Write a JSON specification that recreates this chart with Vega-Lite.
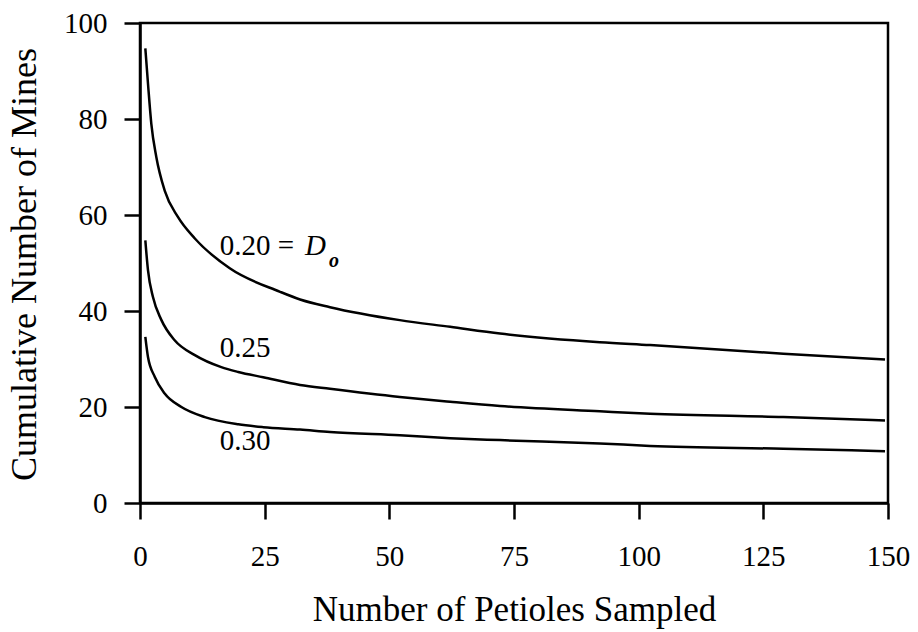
{
  "$schema": "https://vega.github.io/schema/vega-lite/v6.json",
  "width": 748,
  "height": 480,
  "autosize": {"type": "none"},
  "padding": {"left": 140, "top": 23, "right": 30, "bottom": 129},
  "background": "white",
  "config": {
    "view": {"stroke": "black", "strokeWidth": 2.5},
    "font": "Liberation Serif"
  },
  "datasets": {
    "curves": [
      {"series": "0.20", "n": 1.07, "mines": 94.7},
      {"series": "0.20", "n": 1.6, "mines": 87.4},
      {"series": "0.20", "n": 2.27, "mines": 79.0},
      {"series": "0.20", "n": 3.27, "mines": 72.1},
      {"series": "0.20", "n": 4.95, "mines": 65.1},
      {"series": "0.20", "n": 7.6, "mines": 59.6},
      {"series": "0.20", "n": 11.0, "mines": 55.1},
      {"series": "0.20", "n": 18, "mines": 48.9},
      {"series": "0.20", "n": 28.1, "mines": 44.0},
      {"series": "0.20", "n": 32.1, "mines": 42.4},
      {"series": "0.20", "n": 38.1, "mines": 40.8},
      {"series": "0.20", "n": 52.1, "mines": 38.1},
      {"series": "0.20", "n": 62.2, "mines": 36.7},
      {"series": "0.20", "n": 72.2, "mines": 35.3},
      {"series": "0.20", "n": 92.2, "mines": 33.5},
      {"series": "0.20", "n": 102.3, "mines": 32.9},
      {"series": "0.20", "n": 129, "mines": 31.1},
      {"series": "0.20", "n": 149.4, "mines": 29.9},
      {"series": "0.25", "n": 1.07, "mines": 54.7},
      {"series": "0.25", "n": 1.6, "mines": 48.5},
      {"series": "0.25", "n": 2.6, "mines": 42.9},
      {"series": "0.25", "n": 4.3, "mines": 38.1},
      {"series": "0.25", "n": 6.95, "mines": 33.9},
      {"series": "0.25", "n": 11.0, "mines": 30.8},
      {"series": "0.25", "n": 16.3, "mines": 28.3},
      {"series": "0.25", "n": 19.7, "mines": 27.3},
      {"series": "0.25", "n": 24.7, "mines": 26.2},
      {"series": "0.25", "n": 32.1, "mines": 24.6},
      {"series": "0.25", "n": 38.1, "mines": 23.8},
      {"series": "0.25", "n": 52.1, "mines": 22.1},
      {"series": "0.25", "n": 62.2, "mines": 21.1},
      {"series": "0.25", "n": 72.2, "mines": 20.2},
      {"series": "0.25", "n": 92.2, "mines": 19.1},
      {"series": "0.25", "n": 102.3, "mines": 18.6},
      {"series": "0.25", "n": 129, "mines": 17.9},
      {"series": "0.25", "n": 149.4, "mines": 17.2},
      {"series": "0.30", "n": 1.07, "mines": 34.6},
      {"series": "0.30", "n": 1.6, "mines": 30.4},
      {"series": "0.30", "n": 2.95, "mines": 26.3},
      {"series": "0.30", "n": 4.95, "mines": 22.8},
      {"series": "0.30", "n": 8.3, "mines": 20.0},
      {"series": "0.30", "n": 13.0, "mines": 17.9},
      {"series": "0.30", "n": 19.7, "mines": 16.4},
      {"series": "0.30", "n": 24.7, "mines": 15.8},
      {"series": "0.30", "n": 32.1, "mines": 15.3},
      {"series": "0.30", "n": 38.1, "mines": 14.8},
      {"series": "0.30", "n": 52.1, "mines": 14.1},
      {"series": "0.30", "n": 62.2, "mines": 13.5},
      {"series": "0.30", "n": 72.2, "mines": 13.1},
      {"series": "0.30", "n": 92.2, "mines": 12.4},
      {"series": "0.30", "n": 102.3, "mines": 11.9},
      {"series": "0.30", "n": 129, "mines": 11.3},
      {"series": "0.30", "n": 149.4, "mines": 10.8}
    ],
    "labels": [
      {"kind": "value", "text": "0.20 =", "n": 16.0, "mines": 51.6},
      {"kind": "value", "text": "0.25", "n": 16.0, "mines": 30.4},
      {"kind": "value", "text": "0.30", "n": 16.0, "mines": 11.0},
      {"kind": "symbol", "text": "D", "n": 33.1, "mines": 51.6},
      {"kind": "subscript", "text": "o", "n": 37.9, "mines": 49.2}
    ]
  },
  "layer": [
    {
      "data": {"name": "curves"},
      "mark": {"type": "line", "interpolate": "monotone", "color": "black", "strokeWidth": 2.5},
      "encoding": {
        "x": {
          "field": "n", "type": "quantitative",
          "scale": {"domain": [0, 150], "nice": false, "zero": false},
          "axis": {
            "title": "Number of Petioles Sampled",
            "values": [0, 25, 50, 75, 100, 125, 150],
            "grid": false,
            "domainColor": "black", "domainWidth": 2.5,
            "tickColor": "black", "tickWidth": 2.5, "tickSize": 16,
            "labelFont": "Liberation Serif", "labelFontSize": 29, "labelColor": "black",
            "labelBaseline": "alphabetic", "labelPadding": 46, "labelFlush": false,
            "titleFont": "Liberation Serif", "titleFontSize": 35, "titleFontWeight": "normal",
            "titleColor": "black", "titleX": 374, "titleY": 117, "titleBaseline": "alphabetic"
          }
        },
        "y": {
          "field": "mines", "type": "quantitative",
          "scale": {"domain": [0, 100], "nice": false},
          "axis": {
            "title": "Cumulative Number of Mines",
            "values": [0, 20, 40, 60, 80, 100],
            "grid": false,
            "domainColor": "black", "domainWidth": 2.5,
            "tickColor": "black", "tickWidth": 2.5, "tickSize": 16,
            "labelFont": "Liberation Serif", "labelFontSize": 29, "labelColor": "black",
            "labelBaseline": "middle", "labelPadding": 17, "labelFlush": false,
            "titleFont": "Liberation Serif", "titleFontSize": 36, "titleFontWeight": "normal",
            "titleColor": "black", "titleAngle": 270, "titleX": -105, "titleY": 241,
            "titleBaseline": "alphabetic", "titleAlign": "center"
          }
        },
        "detail": {"field": "series"}
      }
    },
    {
      "data": {"name": "labels"},
      "transform": [{"filter": "datum.kind === 'value'"}],
      "mark": {"type": "text", "align": "left", "baseline": "alphabetic", "fontSize": 29, "font": "Liberation Serif", "color": "black"},
      "encoding": {
        "x": {"field": "n", "type": "quantitative"},
        "y": {"field": "mines", "type": "quantitative"},
        "text": {"field": "text"}
      }
    },
    {
      "data": {"name": "labels"},
      "transform": [{"filter": "datum.kind === 'symbol'"}],
      "mark": {"type": "text", "align": "left", "baseline": "alphabetic", "fontSize": 29, "fontStyle": "italic", "font": "Liberation Serif", "color": "black"},
      "encoding": {
        "x": {"field": "n", "type": "quantitative"},
        "y": {"field": "mines", "type": "quantitative"},
        "text": {"field": "text"}
      }
    },
    {
      "data": {"name": "labels"},
      "transform": [{"filter": "datum.kind === 'subscript'"}],
      "mark": {"type": "text", "align": "left", "baseline": "alphabetic", "fontSize": 20, "fontStyle": "italic", "fontWeight": "bold", "font": "Liberation Serif", "color": "black"},
      "encoding": {
        "x": {"field": "n", "type": "quantitative"},
        "y": {"field": "mines", "type": "quantitative"},
        "text": {"field": "text"}
      }
    }
  ]
}
